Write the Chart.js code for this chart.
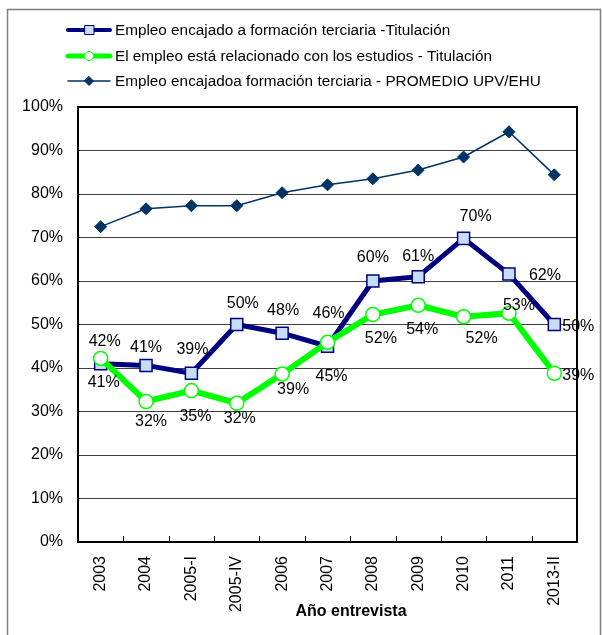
<!DOCTYPE html>
<html>
<head>
<meta charset="utf-8">
<script src="https://cdn.jsdelivr.net/npm/chart.js@4/dist/chart.umd.min.js"></script>
<style>
  body { margin: 0; background: #fff; }
  canvas { display: block; }
</style>
</head>
<body>
<canvas id="lineChart" width="602" height="635"></canvas>
<script>
let years = ['2003', '2004', '2005-I', '2005-IV', '2006', '2007', '2008', '2009', '2010', '2011', '2013-II']
let encajado = [41.0, 40.6, 38.8, 50.0, 48.0, 45.0, 60.0, 61.0, 69.8, 61.6, 50.0]
let relacionado = [42.2, 32.3, 34.8, 31.9, 38.6, 45.9, 52.3, 54.4, 51.8, 52.6, 38.8]
let promedio = [72.5, 76.6, 77.3, 77.3, 80.3, 82.1, 83.5, 85.5, 88.5, 94.3, 84.4]
let yTicks = [0, 10, 20, 30, 40, 50, 60, 70, 80, 90, 100]

let seriesNames = [
    'Empleo encajado a formación terciaria -Titulación',
    'El empleo está relacionado con los estudios - Titulación',
    'Empleo encajadoa formación terciaria - PROMEDIO UPV/EHU'
]

let color_navy = '#000080'
let color_green = '#00ff00'
let color_prom = '#003366'
let color_square = '#c5ddf7'
let font_family = "'Liberation Sans', Arial, sans-serif"

// where each value label sits, relative to its point (dx, dy)
let labelOffsets = [
    [[3, 19], [0, -18], [1, -24], [6, -21], [1, -23], [4, 30], [0, -23], [0, -20], [12, -22], [36, 2], [24, 2]],
    [[4, -17], [5, 20], [4, 26], [3, 15], [11, 16], [1, -29], [8, 24], [4, 24], [18, 22], [10, -8], [24, 2]],
    null
]

let framePlugin = {
    id: 'frame',
    beforeDraw(chart) {
        let ctx = chart.ctx
        ctx.save()
        ctx.fillStyle = '#fff'
        ctx.fillRect(0, 0, chart.width, chart.height)
        ctx.strokeStyle = '#7f7f7f'
        ctx.lineWidth = 1.5
        ctx.strokeRect(7.5, 9.5, 593, 640)
        ctx.restore()
    },
    beforeDatasetsDraw(chart) {
        let ctx = chart.ctx
        let a = chart.chartArea
        let x = chart.scales.x
        ctx.save()
        ctx.strokeStyle = '#000'
        ctx.lineWidth = 1
        let step = (a.right - a.left) / years.length
        for (let i = 1; i < years.length; i++) {
            let px = Math.round(x.getPixelForValue(i) - step / 2) + 0.5
            ctx.beginPath()
            ctx.moveTo(px, a.bottom)
            ctx.lineTo(px, a.bottom - 6)
            ctx.stroke()
        }
        ctx.lineWidth = 2
        ctx.strokeRect(a.left, a.top, a.right - a.left, a.bottom - a.top)
        ctx.restore()
    },
    afterDatasetsDraw(chart) {
        let ctx = chart.ctx
        ctx.save()
        ctx.font = '16px ' + font_family
        ctx.fillStyle = '#000'
        ctx.textAlign = 'center'
        ctx.textBaseline = 'middle'
        chart.data.datasets.forEach(function (ds, di) {
            let offs = labelOffsets[di]
            if (!offs) return
            chart.getDatasetMeta(di).data.forEach(function (pt, i) {
                ctx.fillText(Math.round(ds.data[i]) + '%', pt.x + offs[i][0], pt.y + offs[i][1])
            })
        })
        ctx.restore()
    },
    afterDraw(chart) {
        let ctx = chart.ctx
        ctx.save()
        // legend
        let rows = [30, 56, 81]
        let lineW = [4, 5, 1.5]
        chart.data.datasets.forEach(function (ds, i) {
            let y = rows[i]
            ctx.strokeStyle = ds.borderColor
            ctx.lineWidth = lineW[i]
            ctx.lineCap = 'round'
            ctx.beginPath()
            ctx.moveTo(68, y)
            ctx.lineTo(110, y)
            ctx.stroke()
            ctx.fillStyle = ds.pointBackgroundColor
            ctx.strokeStyle = ds.pointBorderColor
            ctx.lineWidth = 1
            ctx.beginPath()
            if (i === 0) {
                ctx.rect(85, y - 4.5, 9, 9)
            } else if (i === 1) {
                ctx.arc(89, y, 4.5, 0, Math.PI * 2)
            } else {
                ctx.moveTo(89, y - 4.5); ctx.lineTo(93.5, y); ctx.lineTo(89, y + 4.5); ctx.lineTo(84.5, y); ctx.closePath()
            }
            ctx.fill()
            ctx.stroke()
            ctx.fillStyle = '#000'
            ctx.font = '15.3px ' + font_family
            ctx.textAlign = 'left'
            ctx.textBaseline = 'middle'
            ctx.fillText(ds.label, 115, y + 1)
        })
        // axis title
        ctx.font = 'bold 16px ' + font_family
        ctx.textAlign = 'center'
        ctx.textBaseline = 'middle'
        ctx.fillStyle = '#000'
        ctx.fillText('Año entrevista', 351, 612)
        ctx.restore()
    }
}

let lineChartDraw = function () {
    let ctx = document.getElementById('lineChart').getContext('2d')

    window.lineChart = new Chart(ctx, {
        type: 'line',
        data: {
            labels: years,
            datasets: [{
                label: seriesNames[0],
                data: encajado,
                borderColor: color_navy,
                borderWidth: 5,
                pointStyle: 'rect',
                pointRadius: 8.5,
                pointBackgroundColor: color_square,
                pointBorderColor: color_navy,
                pointBorderWidth: 1.5,
                order: 2
            }, {
                label: seriesNames[1],
                data: relacionado,
                borderColor: color_green,
                borderWidth: 6,
                pointStyle: 'circle',
                pointRadius: 7,
                pointBackgroundColor: '#ffffff',
                pointBorderColor: color_green,
                pointBorderWidth: 1.5,
                order: 1
            }, {
                label: seriesNames[2],
                data: promedio,
                borderColor: color_prom,
                borderWidth: 1.5,
                pointStyle: 'rectRot',
                pointRadius: 6,
                pointBackgroundColor: color_prom,
                pointBorderColor: color_prom,
                pointBorderWidth: 1,
                order: 0
            }]
        },
        options: {
            responsive: false,
            animation: false,
            layout: { padding: { top: 107, right: 25, left: 0, bottom: 0 } },
            plugins: {
                legend: { display: false },
                tooltip: { enabled: false }
            },
            scales: {
                x: {
                    offset: true,
                    grid: { display: false },
                    border: { display: false },
                    ticks: {
                        minRotation: 90,
                        maxRotation: 90,
                        padding: 6,
                        color: '#000',
                        font: { size: 16, family: font_family }
                    },
                    afterFit(scale) { scale.height = 93 }
                },
                y: {
                    min: 0,
                    max: 100,
                    afterBuildTicks(scale) { scale.ticks = yTicks.map(v => ({ value: v })) },
                    grid: { color: '#404040', lineWidth: 1, drawTicks: false },
                    border: { display: false },
                    ticks: {
                        padding: 15,
                        color: '#000',
                        font: { size: 16, family: font_family },
                        callback: v => v + '%'
                    },
                    afterFit(scale) { scale.width = 78 }
                }
            }
        },
        plugins: [framePlugin]
    })
}

window.addEventListener('load', function () {
    lineChartDraw()
})
</script>
</body>
</html>
